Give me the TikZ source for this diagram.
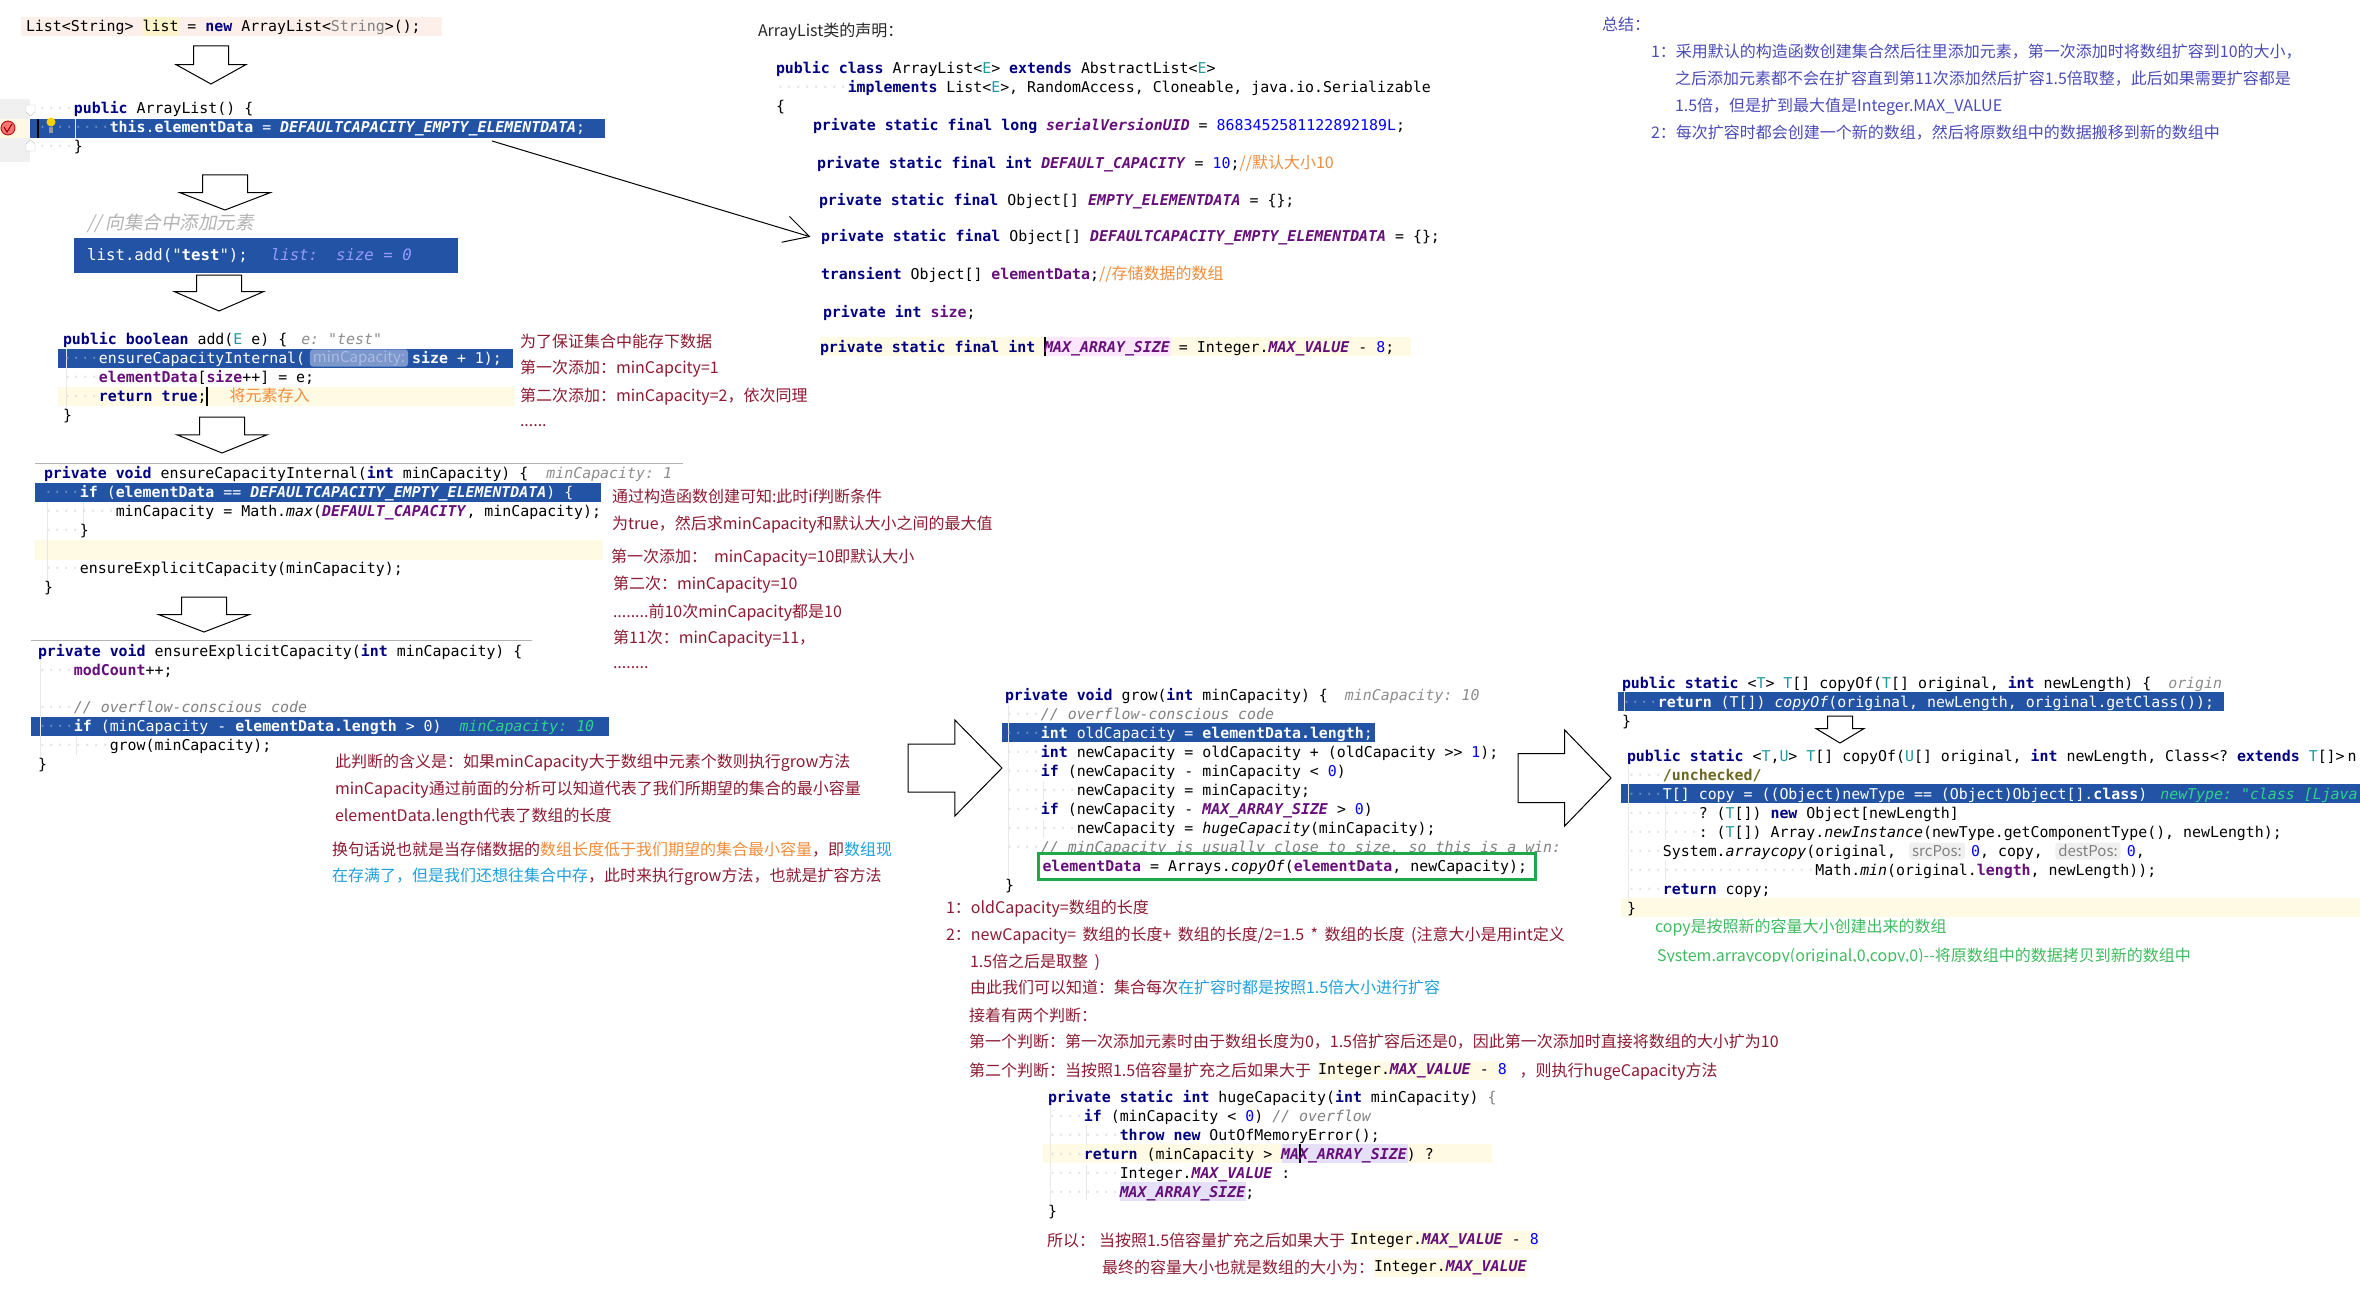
\documentclass[tikz,border=0pt]{standalone}
\usepackage{fontspec}
\setmainfont{Noto Sans CJK SC}
\setmonofont{DejaVu Sans Mono}
\newfontfamily\cjkslant[FakeSlant=0.2]{Noto Sans CJK SC}
\usetikzlibrary{shapes.arrows, arrows.meta, positioning}

\definecolor{selblue}{HTML}{2253A4}
\definecolor{lineyellow}{HTML}{FFFAE4}
\definecolor{wordyellow}{HTML}{FDF5C9}
\definecolor{topred}{HTML}{FDEFEA}
\definecolor{wordpink}{HTML}{FBE6FB}
\definecolor{wordlilac}{HTML}{E5DFF8}
\definecolor{guidegray}{HTML}{E8E8E8}
\definecolor{guttergray}{HTML}{F0F0F0}
\definecolor{notered}{HTML}{8C1A32}
\definecolor{noteorange}{HTML}{F08C3C}
\definecolor{noteblue}{HTML}{1EA0DC}
\definecolor{notegreen}{HTML}{3DBB5E}
\definecolor{noteviolet}{HTML}{4B4BB8}
\definecolor{boxgreen}{HTML}{1DA84A}
\definecolor{hintgreen}{HTML}{2FD38A}
\definecolor{hintfill}{HTML}{7C97CC}
\definecolor{hinttext}{HTML}{A9BCE0}
\definecolor{kwcol}{HTML}{000080}
\definecolor{fldcol}{HTML}{660E7A}
\definecolor{tvcol}{HTML}{20999D}
\definecolor{dotcol}{HTML}{E2E2E2}

\newcommand{\codefont}{\fontsize{14.9}{19}\selectfont\ttfamily\spaceskip=8.97pt\relax}
\newcommand{\callfont}{\fontsize{15.7}{19}\selectfont\ttfamily\spaceskip=9.45pt\relax}
\newcommand{\notefont}{\fontsize{16}{20}\selectfont\rmfamily\spaceskip=6.5pt\relax}
\newcommand{\kw}[1]{\textcolor{kwcol}{\textbf{#1}}}
\newcommand{\fld}[1]{\textcolor{fldcol}{\textbf{#1}}}
\newcommand{\cst}[1]{\textcolor{fldcol}{\textbf{\textit{#1}}}}
\newcommand{\stc}[1]{\textit{#1}}
\newcommand{\nm}[1]{\textcolor{blue}{#1}}
\newcommand{\cmt}[1]{\textcolor{black!50}{\textit{#1}}}
\newcommand{\hnt}[1]{\textcolor{black!45}{\textit{#1}}}
\newcommand{\hntgreen}[1]{\textcolor{hintgreen}{\textit{#1}}}
\newcommand{\tv}[1]{\textcolor{tvcol}{#1}}
\newcommand{\ind}[1]{\textcolor{dotcol}{#1}}
\newcommand{\orangenote}[1]{{\notefont\color{noteorange}#1}}

\tikzset{
  codeline/.style={font=\codefont, inner sep=0pt, outer sep=0pt, text width=#1, align=flush left, text height=13pt, text depth=3pt, anchor=west},
  codeline/.default=640,
  selline/.style={codeline=#1, text=white, execute at begin node={\colorlet{kwcol}{white}\colorlet{fldcol}{white}\colorlet{tvcol}{white}\colorlet{dotcol}{selblue!70!white}}},
  selline/.default=640,
  blockarrow/.style n args={4}{single arrow, draw=black, line width=1pt, inner sep=0pt, outer sep=0pt, inner ysep=#1/2, minimum width=#2, single arrow head extend=(#2-#1)/2, minimum height=#3, single arrow tip angle=#4, anchor=tip},
}
\tikzstyle{note} = [font=\notefont, inner sep=0pt, outer sep=0pt, text height=14pt, text depth=2pt, anchor=west, text=notered]
\tikzstyle{notesum} = [note, text=noteviolet]
\tikzstyle{notecopy} = [note, text=notegreen]
\tikzstyle{inlinecode} = [font=\codefont, inner sep=0pt, outer sep=0pt, text height=14pt, text depth=5pt, fill=lineyellow, text=black]
\tikzstyle{paramhint} = [font=\fontsize{15}{18}\selectfont\rmfamily, inner xsep=3pt, inner ysep=1pt, rounded corners=3pt, minimum height=17pt]
\tikzstyle{selband} = [fill=selblue]
\tikzstyle{yellowband} = [fill=lineyellow]
\tikzstyle{guide} = [guidegray, line width=1pt]
\tikzstyle{caret} = [black, line width=1.5pt]
\tikzstyle{link} = [line width=1pt, -{Straight Barb[length=25pt, width=27pt]}, shorten >=11pt]

\begin{document}
\begin{tikzpicture}[x=1pt, y=-1pt, node distance=19pt]
\useasboundingbox (0,0) rectangle (2360,1292);

\fill[topred] (21,17) rectangle (442,36);
\fill[wordyellow] (143,17) rectangle (179,36);
\fill[guttergray] (0,99) rectangle (30,162);
\fill[lineyellow] (0,119) rectangle (30,138);
\fill[selband] (30,119) rectangle (605,138);
\fill[selband] (58,349) rectangle (513,368);
\fill[yellowband] (58,387) rectangle (515,406);
\fill[selband] (35,483) rectangle (601,502);
\fill[yellowband] (35,540) rectangle (603,560);
\fill[selband] (31,717) rectangle (609,736);
\fill[selband] (1002,723) rectangle (1375,742);
\fill[selband] (1618,692) rectangle (2224,711);
\fill[selband] (1621,784) rectangle (2360,803);
\fill[yellowband] (1621,898) rectangle (2360,917);
\fill[yellowband] (820,337) rectangle (1411,356);
\fill[wordpink] (1045,337) rectangle (1171,356);
\fill[yellowband] (1043,1144) rectangle (1492,1163);
\fill[wordlilac] (1282,1144) rectangle (1408,1163);
\fill[wordlilac] (1120,1182) rectangle (1246,1201);

\foreach \gx/\gya/\gyb in {75/119/138, 66/349/410, 47/502/590, 83/502/530, 40/660/758, 76/736/755, 1008/705/878, 1043/782/800, 1043/820/838, 1624/692/711, 1628/765/900, 1665/805/840, 1665/860/880, 1050/1105/1205, 1086/1125/1145, 1086/1165/1200}
  \draw[guide] (\gx,\gya) -- (\gx,\gyb);

\node (breakpoint) [circle, fill=red!55!white, draw=red!70!black, line width=0.8pt, minimum size=14pt, inner sep=0pt] at (8,128) {};
\draw[red!50!black, line width=1pt] (4,127) -- (7,132) -- (12,124);
\draw[black!25, fill=white] (26,105) -- (35,105) -- (35,112) -- (30.5,116) -- (26,112) -- cycle;
\draw[black!25, fill=white] (26,151) -- (35,151) -- (35,144) -- (30.5,140) -- (26,144) -- cycle;
\fill[yellow!70!orange] (51,122) circle (4.5);
\fill[black!40] (49,127) rectangle (53,133);
\draw[caret] (38,119) -- (38,138);
\draw[caret] (207,387) -- (207,406);
\draw[caret] (1045,337) -- (1045,356);
\draw[caret] (1300,1144) -- (1300,1163);
\draw[black!30] (35,463) -- (683,463);
\draw[black!30] (31,640) -- (532,640);

\node (arrownew) [blockarrow={34}{69}{38}{122}, rotate=-90] at (211,84) {};
\node (arrowctor) [blockarrow={44}{89}{35}{138}, rotate=-90] at (225,210) {};
\node (arrowadd) [blockarrow={44}{88}{36}{133}, rotate=-90] at (219,311) {};
\node (arrowinternal) [blockarrow={44}{89}{36}{136}, rotate=-90] at (222,453) {};
\node (arrowexplicit) [blockarrow={44}{89}{35}{138}, rotate=-90] at (204,632) {};
\node (arrowgrow) [blockarrow={47}{95}{94}{91}] at (1002,768) {};
\node (arrowcopy) [blockarrow={48}{95}{93}{92}] at (1611,778) {};
\node (arrowcopyof) [blockarrow={24}{47}{27}{118}, rotate=-90] at (1840,743) {};

\node (newlist) [codeline] at (26,27) {List<String> list = \kw{new} ArrayList<\textcolor{black!50}{String}>();};

\node (ctorsig) [codeline] at (38,109) {\ind{····}\kw{public} ArrayList() \{};
\node (ctorbody) [selline, below of=ctorsig] {\ind{········}\kw{this}.\fld{elementData} = \cst{DEFAULTCAPACITY\_EMPTY\_ELEMENTDATA};};
\node (ctorend) [codeline, below of=ctorbody] {\ind{····}\}};
\coordinate (ctorstart) at (492,141);

\node (addcomment) [font=\fontsize{18.5}{22}\selectfont\cjkslant, text=black!30, inner sep=0pt, anchor=west] at (87,223) {// 向集合中添加元素};
\node (addcall) [font=\callfont, fill=selblue, text=white, text width=358pt, minimum height=35pt, inner xsep=13pt, inner ysep=0pt, anchor=west, align=flush left] at (74,255.5) {list.add("\textbf{test}");\hspace*{23pt}\textcolor{blue!40!white}{\textit{list:}\hspace*{18pt}\textit{size = 0}}};

\node (addsig) [codeline] at (63,339) {\kw{public} \kw{boolean} add(\tv{E} e) \{\hspace*{14pt}\hnt{e: "test"}};
\node (addensure) [selline, below of=addsig] {\ind{····}ensureCapacityInternal(\hspace*{107pt}\fld{size} + 1);};
\node (hintcap) [paramhint, fill=hintfill, text=hinttext] at (359,358) {minCapacity:};
\node (addelem) [codeline, below of=addensure] {\ind{····}\fld{elementData}[\fld{size}++] = e;};
\node (addret) [codeline, below of=addelem] {\ind{····}\kw{return} \kw{true};\hspace*{23pt}\orangenote{将元素存入}};
\node (addend) [codeline, below of=addret] {\}};

\node (note1a) [note] at (520,341) {为了保证集合中能存下数据};
\node (note1b) [note] at (520,367) {第一次添加：minCapcity=1};
\node (note1c) [note] at (520,395) {第二次添加：minCapacity=2，依次同理};
\node (note1d) [note] at (520,420) {......};

\node (intsig) [codeline] at (44,473) {\kw{private} \kw{void} ensureCapacityInternal(\kw{int} minCapacity) \{\hspace*{18pt}\hnt{minCapacity: 1}};
\node (intif) [selline, below of=intsig] {\ind{····}\kw{if} (\fld{elementData} == \cst{DEFAULTCAPACITY\_EMPTY\_ELEMENTDATA}) \{};
\node (intmax) [codeline, below of=intif] {\ind{········}minCapacity = Math.\stc{max}(\cst{DEFAULT\_CAPACITY}, minCapacity);};
\node (intifend) [codeline, below of=intmax] {\ind{····}\}};
\node (intcall) [codeline, below of=intifend, yshift=-19pt] {\ind{····}ensureExplicitCapacity(minCapacity);};
\node (intend) [codeline, below of=intcall] {\}};

\node (note2a) [note] at (612,496) {通过构造函数创建可知:此时if判断条件};
\node (note2b) [note] at (612,523) {为true，然后求minCapacity和默认大小之间的最大值};
\node (note2c) [note] at (611,556) {第一次添加：\hspace{7pt}minCapacity=10即默认大小};
\node (note2d) [note] at (613,583) {第二次：minCapacity=10};
\node (note2e) [note] at (613,611) {........前10次minCapacity都是10};
\node (note2f) [note] at (613,637) {第11次：minCapacity=11，};
\node (note2g) [note] at (613,662) {........};

\node (expsig) [codeline] at (38,651) {\kw{private} \kw{void} ensureExplicitCapacity(\kw{int} minCapacity) \{};
\node (expmod) [codeline, below of=expsig] {\ind{····}\fld{modCount}++;};
\node (expcomment) [codeline, below of=expmod, yshift=-18pt] {\ind{····}\cmt{// overflow-conscious code}};
\node (expif) [selline, below of=expcomment] {\ind{····}\kw{if} (minCapacity - \fld{elementData.length} > 0)\hspace*{18pt}\hntgreen{minCapacity: 10}};
\node (expgrow) [codeline, below of=expif] {\ind{········}grow(minCapacity);};
\node (expend) [codeline, below of=expgrow] {\}};

\node (note3a) [note] at (335,761) {此判断的含义是：如果minCapacity大于数组中元素个数则执行grow方法};
\node (note3b) [note] at (335,788) {minCapacity通过前面的分析可以知道代表了我们所期望的集合的最小容量};
\node (note3c) [note] at (335,815) {elementData.length代表了数组的长度};
\node (note3d) [note] at (332,849) {换句话说也就是当存储数据的\textcolor{noteorange}{数组长度低于我们期望的集合最小容量}，即\textcolor{noteblue}{数组现}};
\node (note3e) [note] at (332,875) {\textcolor{noteblue}{在存满了，但是我们还想往集合中存}，此时来执行grow方法，也就是扩容方法};

\node (declhead) [note, text=black!85] at (758,31) {ArrayList类的声明：};
\node (declclass) [codeline=700] at (776,69) {\kw{public} \kw{class} ArrayList<\tv{E}> \kw{extends} AbstractList<\tv{E}>};
\node (declimpl) [codeline=700, below of=declclass] {\ind{········}\kw{implements} List<\tv{E}>, RandomAccess, Cloneable, java.io.Serializable};
\node (declopen) [codeline=700, below of=declimpl] {\{};
\node (declserial) [codeline] at (813,126) {\kw{private} \kw{static} \kw{final} \kw{long} \cst{serialVersionUID} = \nm{8683452581122892189L};};
\node (declcap) [codeline] at (817,164) {\kw{private} \kw{static} \kw{final} \kw{int} \cst{DEFAULT\_CAPACITY} = \nm{10};\orangenote{//默认大小10}};
\node (declempty) [codeline] at (819,200) {\kw{private} \kw{static} \kw{final} Object[] \cst{EMPTY\_ELEMENTDATA} = \{\};};
\node (decldefault) [codeline] at (821,236) {\kw{private} \kw{static} \kw{final} Object[] \cst{DEFAULTCAPACITY\_EMPTY\_ELEMENTDATA} = \{\};};
\node (decldata) [codeline] at (821,274) {\kw{transient} Object[] \fld{elementData};\orangenote{//存储数据的数组}};
\node (declsize) [codeline] at (823,312) {\kw{private} \kw{int} \fld{size};};
\node (declmax) [codeline] at (820,347) {\kw{private} \kw{static} \kw{final} \kw{int} \cst{MAX\_ARRAY\_SIZE} = Integer.\cst{MAX\_VALUE} - \nm{8};};

\draw [link] (ctorstart) -- ([yshift=-4pt]decldefault.west);

\node (sumhead) [notesum] at (1602,25) {总结：};
\node (sum1a) [notesum] at (1651,52) {1：采用默认的构造函数创建集合然后往里添加元素，第一次添加时将数组扩容到10的大小，};
\node (sum1b) [notesum] at (1675,79) {之后添加元素都不会在扩容直到第11次添加然后扩容1.5倍取整，此后如果需要扩容都是};
\node (sum1c) [notesum] at (1675,106) {1.5倍，但是扩到最大值是Integer.MAX\_VALUE};
\node (sum2) [notesum] at (1651,133) {2：每次扩容时都会创建一个新的数组，然后将原数组中的数据搬移到新的数组中};

\node (growsig) [codeline] at (1005,695) {\kw{private} \kw{void} grow(\kw{int} minCapacity) \{\hspace*{17pt}\hnt{minCapacity: 10}};
\node (growcmt) [codeline, below of=growsig] {\ind{····}\cmt{// overflow-conscious code}};
\node (growold) [selline, below of=growcmt] {\ind{····}\kw{int} oldCapacity = \fld{elementData.length};};
\node (grownew) [codeline, below of=growold] {\ind{····}\kw{int} newCapacity = oldCapacity + (oldCapacity >> \nm{1});};
\node (growif) [codeline, below of=grownew] {\ind{····}\kw{if} (newCapacity - minCapacity < \nm{0})};
\node (growset) [codeline, below of=growif] {\ind{········}newCapacity = minCapacity;};
\node (growifmax) [codeline, below of=growset] {\ind{····}\kw{if} (newCapacity - \cst{MAX\_ARRAY\_SIZE} > \nm{0})};
\node (growhuge) [codeline, below of=growifmax] {\ind{········}newCapacity = \stc{hugeCapacity}(minCapacity);};
\node (growwin) [codeline, below of=growhuge] {\ind{····}\cmt{// minCapacity is usually close to size, so this is a win:}};
\node (growcopy) [font=\codefont, draw=boxgreen, line width=3pt, fill=white, inner xsep=4pt, inner ysep=0pt, text width=489pt, minimum height=26pt, align=flush left, anchor=west, text height=13pt, text depth=3pt] at (1037,866) {\fld{elementData} = Arrays.\stc{copyOf}(\fld{elementData}, newCapacity);};
\node (growend) [codeline, below of=growwin, yshift=-19pt] {\}};

\node (note4a) [note] at (946,907) {1：oldCapacity=数组的长度};
\node (note4b) [note] at (946,934) {2：newCapacity= 数组的长度+ 数组的长度/2=1.5 * 数组的长度 (注意大小是用int定义};
\node (note4c) [note] at (970,961) {1.5倍之后是取整 )};
\node (note4d) [note] at (970,987) {由此我们可以知道：集合每次\textcolor{noteblue}{在扩容时都是按照1.5倍大小进行扩容}};
\node (note4e) [note] at (969,1015) {接着有两个判断：};
\node (note4f) [note] at (969,1041) {第一个判断：第一次添加元素时由于数组长度为0，1.5倍扩容后还是0，因此第一次添加时直接将数组的大小扩为10};
\node (note4g) [note] at (969,1070) {第二个判断：当按照1.5倍容量扩充之后如果大于};
\node (note4h) [inlinecode, right=7pt of note4g] {Integer.\cst{MAX\_VALUE} - \nm{8}};
\node (note4i) [note, right=13pt of note4h] {，则执行hugeCapacity方法};

\node (hugesig) [codeline] at (1048,1097) {\kw{private} \kw{static} \kw{int} hugeCapacity(\kw{int} minCapacity) \textcolor{black!50}{\{}};
\node (hugeif) [codeline, below of=hugesig] {\ind{····}\kw{if} (minCapacity < \nm{0}) \cmt{// overflow}};
\node (hugethrow) [codeline, below of=hugeif] {\ind{········}\kw{throw} \kw{new} OutOfMemoryError();};
\node (hugeret) [codeline, below of=hugethrow] {\ind{····}\kw{return} (minCapacity > \cst{MAX\_ARRAY\_SIZE}) ?};
\node (hugeint) [codeline, below of=hugeret] {\ind{········}Integer.\cst{MAX\_VALUE} :};
\node (hugemax) [codeline, below of=hugeint] {\ind{········}\cst{MAX\_ARRAY\_SIZE};};
\node (hugeend) [codeline, below of=hugemax] {\}};

\node (note5a) [note] at (1047,1240) {所以：\hspace{4pt}当按照1.5倍容量扩充之后如果大于};
\node (note5b) [inlinecode, right=5pt of note5a] {Integer.\cst{MAX\_VALUE} - \nm{8}};
\node (note5c) [note] at (1102,1267) {最终的容量大小也就是数组的大小为：};
\node (note5d) [inlinecode, right=0pt of note5c] {Integer.\cst{MAX\_VALUE}};

\node (copysig) [codeline] at (1622,683) {\kw{public} \kw{static} <\tv{T}> \tv{T}[] copyOf(\tv{T}[] original, \kw{int} newLength) \{\hspace*{17pt}\hnt{origin}};
\node (copyret) [selline, below of=copysig] {\ind{····}\kw{return} (\tv{T}[]) \stc{copyOf}(original, newLength, original.getClass());};
\node (copyend) [codeline, below of=copyret] {\}};

\node (fullsig) [codeline=733] at (1627,756) {\kw{public} \kw{static} <\tv{T},\tv{U}> \tv{T}[] copyOf(\tv{U}[] original, \kw{int} newLength, Class<? \kw{extends} \tv{T}[]>\hspace*{3pt}n};
\node (fulluncheck) [codeline=733, below of=fullsig] {\ind{····}\textcolor{olive!70!black}{\textbf{/unchecked/}}};
\node (fullcopy) [selline=733, below of=fulluncheck] {\ind{····}\tv{T}[] copy = ((Object)newType == (Object)Object[].\kw{class})\hspace*{13pt}\hntgreen{newType: "class [Ljava}};
\node (fullnew) [codeline=733, below of=fullcopy] {\ind{········}? (\tv{T}[]) \kw{new} Object[newLength]};
\node (fullarray) [codeline=733, below of=fullnew] {\ind{········}: (\tv{T}[]) Array.\stc{newInstance}(newType.getComponentType(), newLength);};
\node (fullsys) [codeline=733, below of=fullarray] {\ind{····}System.\stc{arraycopy}(original,\hspace*{75pt}\nm{0}, copy,\hspace*{84pt}\nm{0},};
\node (srchint) [paramhint, fill=guttergray, text=black!50] at (1937,851) {srcPos:};
\node (desthint) [paramhint, fill=guttergray, text=black!50] at (2088,851) {destPos:};
\node (fullmath) [codeline=733, below of=fullsys] {\ind{·····················}Math.\stc{min}(original.\fld{length}, newLength));};
\node (fullret) [codeline=733, below of=fullmath] {\ind{····}\kw{return} copy;};
\node (fullend) [codeline=733, below of=fullret] {\}};

\node (note6a) [notecopy] at (1655,926) {copy是按照新的容量大小创建出来的数组};
\node (note6b) [notecopy] at (1657,955) {System.arraycopy(original,0,copy,0)-{}-将原数组中的数据拷贝到新的数组中};
\fill[white] (1640,962) rectangle (2240,975);

\end{tikzpicture}
\end{document}
